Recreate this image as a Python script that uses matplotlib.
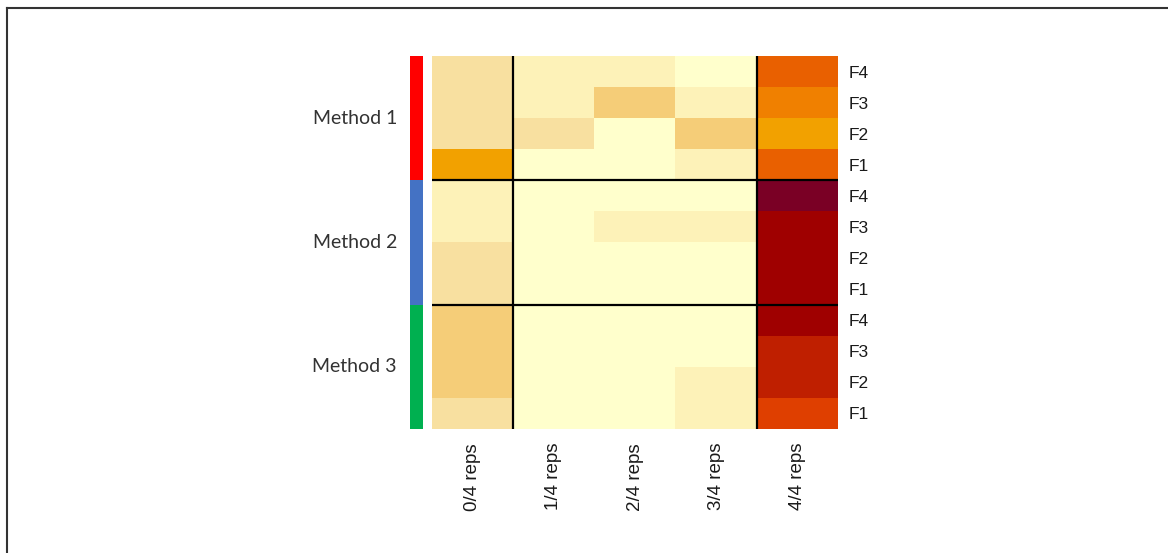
import numpy as np
import matplotlib
matplotlib.use('Agg')
import matplotlib.pyplot as plt
from matplotlib import colors as mcolors
from matplotlib.lines import Line2D

# data
methods = ['Method 1', 'Method 2', 'Method 3']
method_colors = ['#ff0000', '#4472c4', '#00b050']
row_labels = ['F4', 'F3', 'F2', 'F1'] * 3
col_labels = ['0/4 reps', '1/4 reps', '2/4 reps', '3/4 reps', '4/4 reps']

# one list per method, rows F4..F1, columns 0/4..4/4 reps
method1 = [[0.20, 0.10, 0.10, 0.00, 0.62],
           [0.20, 0.10, 0.30, 0.10, 0.55],
           [0.20, 0.20, 0.00, 0.30, 0.45],
           [0.45, 0.00, 0.00, 0.10, 0.62]]
method2 = [[0.10, 0.00, 0.00, 0.00, 1.00],
           [0.10, 0.00, 0.10, 0.10, 0.88],
           [0.20, 0.00, 0.00, 0.00, 0.88],
           [0.20, 0.00, 0.00, 0.00, 0.88]]
method3 = [[0.30, 0.00, 0.00, 0.00, 0.88],
           [0.30, 0.00, 0.00, 0.00, 0.78],
           [0.30, 0.00, 0.00, 0.10, 0.78],
           [0.20, 0.00, 0.00, 0.10, 0.70]]

values = np.array(method1 + method2 + method3)
group_idx = np.repeat(np.arange(len(methods)), 4)

cmap = mcolors.LinearSegmentedColormap.from_list('heat', [
    (0.00, '#ffffcc'), (0.10, '#fdf2b8'), (0.20, '#f8e0a0'), (0.30, '#f5cd78'),
    (0.45, '#f3a200'), (0.55, '#f08000'), (0.62, '#e96000'), (0.70, '#e04000'),
    (0.78, '#c02000'), (0.88, '#a00000'), (1.00, '#7a0025')])

W, H = 1168, 553
fig = plt.figure(figsize=(W / 100, H / 100), dpi=100)

def px_axes(x0, y0, x1, y1):
    return fig.add_axes([x0 / W, 1 - y1 / H, (x1 - x0) / W, (y1 - y0) / H])

# heatmap
ax = px_axes(432, 56, 838, 429)
ax.imshow(values, cmap=cmap, vmin=0, vmax=1, aspect='auto', interpolation='nearest')
for x in [0.5, 3.5]:
    ax.axvline(x, color='black', lw=1.6)
for y in [3.5, 7.5]:
    ax.axhline(y, color='black', lw=1.6)
for s in ax.spines.values():
    s.set_visible(False)
ax.yaxis.tick_right()
ax.set_yticks(range(len(row_labels)))
ax.set_yticklabels(row_labels, fontsize=12.5, family='Liberation Sans', color='#1a1a1a')
ax.set_xticks(range(len(col_labels)))
ax.set_xticklabels(col_labels, rotation=90, fontsize=13.5, family='Liberation Sans',
                   color='#1a1a1a', va='top')
ax.tick_params(axis='y', length=0, pad=8)
ax.tick_params(axis='x', length=0, pad=10)

# method colour strip
sax = px_axes(410, 56, 423, 429)
sax.imshow(group_idx[:, None], cmap=mcolors.ListedColormap(method_colors),
           aspect='auto', interpolation='nearest')
sax.set_axis_off()
for i, m in enumerate(methods):
    sax.text(-0.5 - 1.0, i * 4 + 1.5, m, ha='right', va='center', fontsize=14,
             family='Lato', color='#333333', transform=sax.transData, clip_on=False)

# frame of the screenshot
fig.add_artist(Line2D([7 / W, 7 / W], [0, 1 - 8 / H], color='#333333', lw=1.5))
fig.add_artist(Line2D([7 / W, 1], [1 - 8 / H, 1 - 8 / H], color='#333333', lw=1.5))

fig.savefig('out.png', dpi=100)
